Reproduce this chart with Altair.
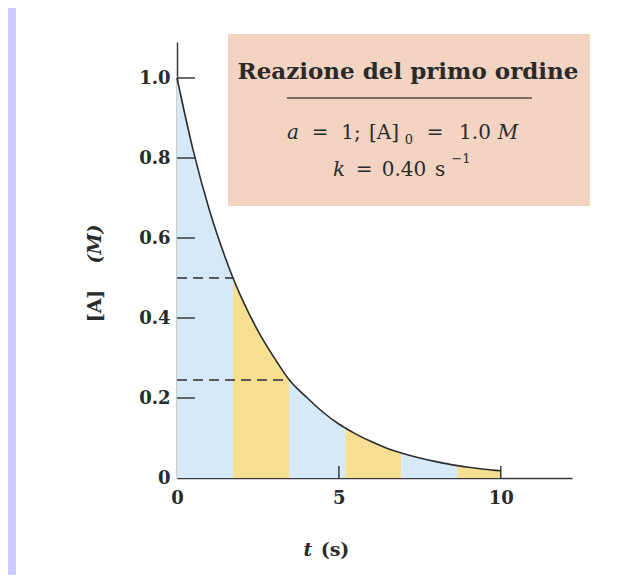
import altair as alt
import pandas as pd

# ---- data ----
t_vals = [0, 0.5, 1, 1.5, 1.73, 2, 2.5, 3, 3.47, 4, 4.5, 5, 5.2, 5.5, 6, 6.5, 6.93,
          7.5, 8, 8.66, 9, 9.5, 10]
a_vals = [1.0, 0.819, 0.670, 0.549, 0.500, 0.449, 0.368, 0.301, 0.245, 0.202, 0.165,
          0.135, 0.125, 0.111, 0.091, 0.074, 0.0625, 0.050, 0.041, 0.031, 0.027,
          0.022, 0.018]
band_edges = [0, 1.73, 3.47, 5.2, 6.93, 8.66, 10]
band_kinds = ["blu", "giallo", "blu", "giallo", "blu", "giallo"]
dash_levels = [0.5, 0.245]
dash_starts = [0, 0]
dash_ends = [1.73, 3.47]
y_tick_values = [0, 0.2, 0.4, 0.6, 0.8, 1.0]
y_inner_ticks = [0.2, 0.4, 0.6, 0.8, 1.0]
x_tick_values = [0, 5, 10]
x_inner_ticks = [5, 10]

FONT = "DejaVu Serif"
INK = "#2a2a2a"
W, H = 395, 436

curve = pd.DataFrame({"t": t_vals, "A": a_vals})
rows = []
for i in range(len(band_kinds)):
    lo, hi = band_edges[i], band_edges[i + 1]
    for t, a in zip(t_vals, a_vals):
        if lo - 1e-9 <= t <= hi + 1e-9:
            rows.append({"t": t, "A": a, "band": i, "kind": band_kinds[i]})
bands = pd.DataFrame(rows)
dashes = pd.DataFrame({"level": dash_levels, "start": dash_starts, "end": dash_ends})
yt = pd.DataFrame({"v": y_inner_ticks})
xt = pd.DataFrame({"v": x_inner_ticks})
one = pd.DataFrame({"k": [0]})

xscale = alt.Scale(domain=[0, 12.2], nice=False, zero=False)
yscale = alt.Scale(domain=[0, 1.09], nice=False, zero=False)

xaxis = alt.Axis(values=x_tick_values, ticks=False, grid=False, title=None,
                 domainColor="#3a3a3a", domainWidth=1.5, labelFont=FONT,
                 labelFontWeight="bold", labelFontSize=18, labelColor=INK,
                 labelPadding=11, labelFlush=False, labelOverlap=False)
yaxis = alt.Axis(values=y_tick_values, ticks=False, grid=False, title=None,
                 domainColor="#3a3a3a", domainWidth=1.5, labelFont=FONT,
                 labelFontWeight="bold", labelFontSize=18, labelColor=INK,
                 labelPadding=7, labelFlush=False, labelOverlap=False,
                 labelExpr="datum.value == 0 ? '0' : format(datum.value, '.1f')")

strip = alt.Chart(one).mark_rect(color="#ccccff").encode(
    x=alt.value(-169), x2=alt.value(-161), y=alt.value(-34), y2=alt.value(540))

areas = alt.Chart(bands).mark_area(interpolate="monotone").encode(
    x=alt.X("t:Q", scale=xscale, axis=xaxis),
    y=alt.Y("A:Q", scale=yscale, axis=yaxis, stack=None),
    color=alt.Color("kind:N", legend=None,
                    scale=alt.Scale(domain=["blu", "giallo"],
                                    range=["#d6e9f8", "#f6df92"])),
    detail="band:N",
)

box = alt.Chart(one).mark_rect(color="#f3d3c1").encode(
    x=alt.value(51), x2=alt.value(413), y=alt.value(-8), y2=alt.value(164))

line = alt.Chart(curve).mark_line(interpolate="monotone", color="#2b2b2b",
                                  strokeWidth=1.6).encode(
    x=alt.X("t:Q", scale=xscale), y=alt.Y("A:Q", scale=yscale))

dash = alt.Chart(dashes).mark_rule(color="#2b2b2b", strokeWidth=1.4,
                                   strokeDash=[10, 6]).encode(
    x=alt.X("start:Q", scale=xscale), x2=alt.X2("end:Q"),
    y=alt.Y("level:Q", scale=yscale))

yticks = alt.Chart(yt).mark_rule(color="#3a3a3a", strokeWidth=1.5).encode(
    y=alt.Y("v:Q", scale=yscale), x=alt.value(0), x2=alt.value(18))
xticks = alt.Chart(xt).mark_rule(color="#3a3a3a", strokeWidth=1.5).encode(
    x=alt.X("v:Q", scale=xscale), y=alt.value(H), y2=alt.value(H - 12))

rule_box = alt.Chart(one).mark_rule(color="#5b4b43", strokeWidth=1.5).encode(
    x=alt.value(110), x2=alt.value(355), y=alt.value(56))


def txt(s, x, y, size=20, weight="normal", style="normal", angle=0):
    return alt.Chart(one).mark_text(
        text=s, font=FONT, fontSize=size, fontWeight=weight, fontStyle=style,
        angle=angle, color=INK, align="center", baseline="middle"
    ).encode(x=alt.value(x), y=alt.value(y))


texts = [
    txt("Reazione del primo ordine", 231, 30, size=23, weight="bold"),
    txt("a", 116, 91, style="italic"),
    txt("=", 143, 91),
    txt("1;", 174, 91),
    txt("[A]", 207, 91),
    txt("0", 232, 98, size=13),
    txt("=", 258, 91),
    txt("1.0", 298, 91),
    txt("M", 331, 91, style="italic"),
    txt("k", 162, 128, style="italic"),
    txt("=", 187, 128),
    txt("0.40", 227, 128),
    txt("s", 263, 128),
    txt("\u22121", 284, 117, size=13),
    txt("[A]", -82, 264, size=19, weight="bold", angle=270),
    txt("(M)", -82, 202, size=19, weight="bold", style="italic", angle=270),
    txt("t", 131, 508, size=19, weight="bold", style="italic"),
    txt("(s)", 158, 508, size=19, weight="bold"),
]

chart = alt.layer(strip, areas, box, line, dash, yticks, xticks, rule_box, *texts).properties(
    width=W, height=H,
    autosize=alt.AutoSizeParams(type="none"),
    padding={"left": 169, "top": 34, "right": 55, "bottom": 97},
    background="white",
).configure_view(stroke=None)

chart.save("out.html", embed_options={"renderer": "svg", "actions": False})
